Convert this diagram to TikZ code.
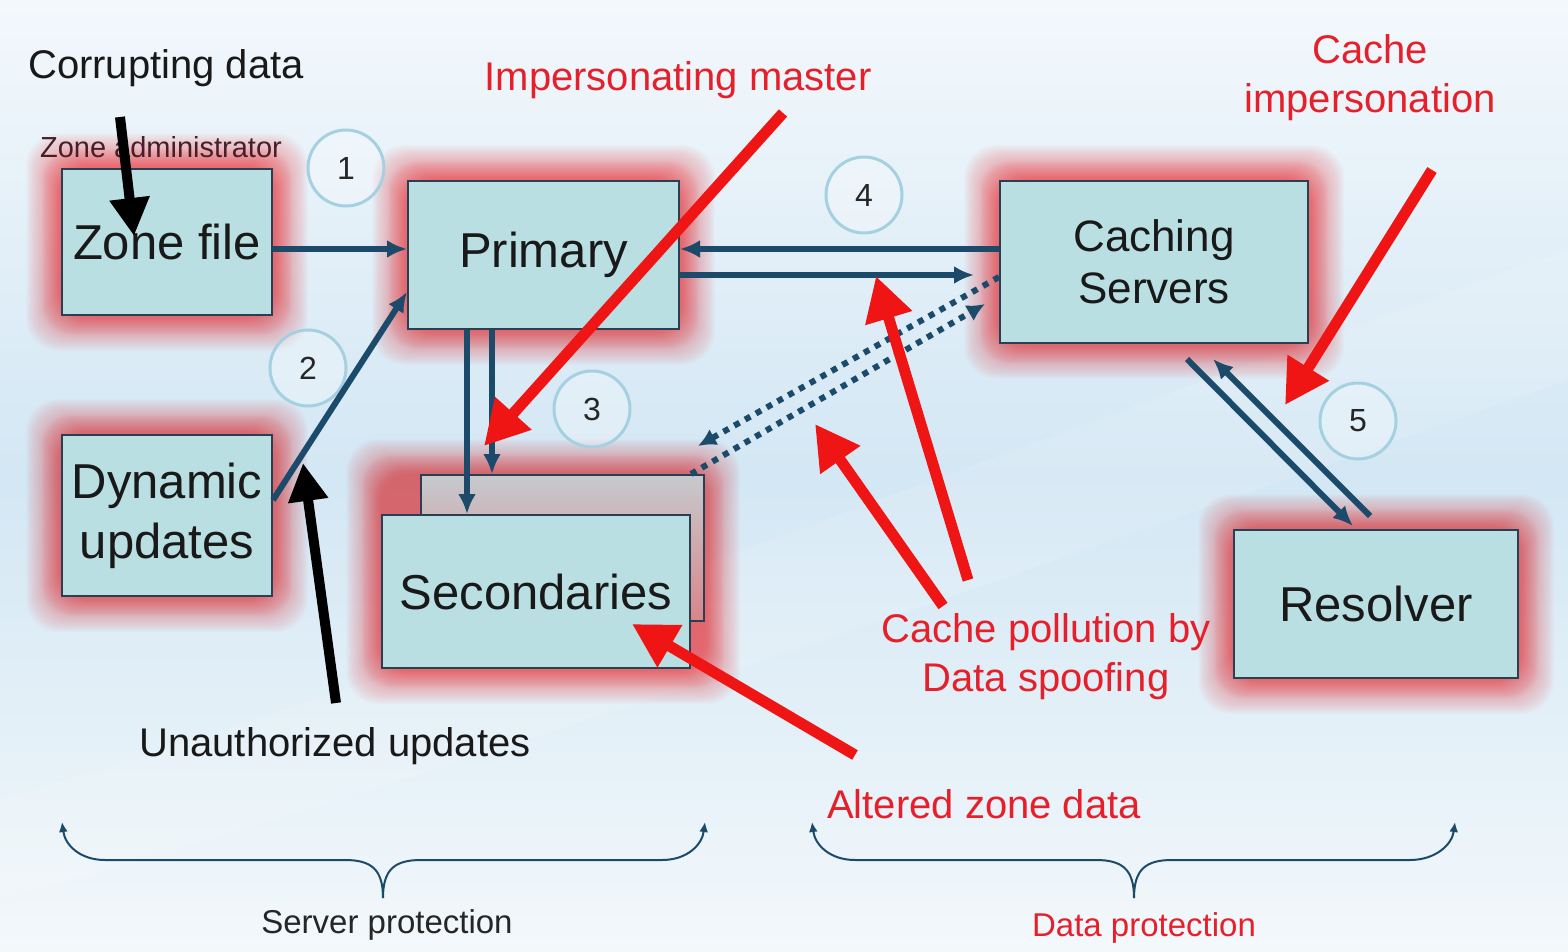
\documentclass[tikz,border=0pt]{standalone}
\usepackage{fontspec}
\setmainfont{Liberation Sans}
\usetikzlibrary{arrows.meta,calc}
\definecolor{bgtop}{HTML}{F3F8FC}
\definecolor{bgmid}{HTML}{D3E7F4}
\definecolor{bgbot}{HTML}{F3F8FB}
\definecolor{boxfill}{HTML}{B9DFE3}
\definecolor{boxline}{HTML}{2A3F52}
\definecolor{glowc}{HTML}{FF3C42}
\definecolor{conn}{HTML}{1C4A6B}
\definecolor{attack}{HTML}{F01515}
\definecolor{circc}{HTML}{A5D0E2}
\definecolor{admin}{HTML}{4A1E28}
\definecolor{labred}{HTML}{E5202B}
\definecolor{backtop}{HTML}{C6CACE}
\definecolor{backbot}{HTML}{D98589}
\newcommand{\glowrect}[4]{%
  \foreach \e in {1,...,20} {%
    \fill[glowc, opacity=0.02, rounded corners=14pt] ({#1-\e},{#2-\e}) rectangle ({#3+\e},{#4+\e});}
  \foreach \e in {1,...,36} {%
    \fill[glowc, opacity=0.02, rounded corners=16pt] ({#1-\e},{#2-\e}) rectangle ({#3+\e},{#4+\e});}}
\begin{document}
\begin{tikzpicture}[x=0.5pt,y=-0.5pt,
  bx/.style={draw=boxline, line width=1pt, fill=boxfill, inner sep=0pt, align=center, text=black!90,
    font=\fontsize{24.5}{30}\selectfont},
  circ/.style={circle, draw=circc, line width=1.5pt, fill=white, fill opacity=0.25, text opacity=1,
    minimum size=38pt, inner sep=0pt, font=\fontsize{16}{16}\selectfont, text=black!85},
  cn/.style={draw=conn, line width=3pt, -{Latex[length=10pt,width=9pt]}},
  dt/.style={draw=conn, line width=3pt, dash pattern=on 3pt off 3.2pt, -{Latex[length=9pt,width=9pt]}},
  atk/.style={draw=attack, line width=5.5pt, -{Triangle[length=22pt,width=23pt]}},
  blk/.style={draw=black, line width=5pt, -{Triangle[length=19pt,width=19pt]}},
  brace/.style={draw=conn, line width=1pt, -{Latex[length=5pt,width=4.5pt]}},
  lbl/.style={font=\fontsize{20}{24.5}\selectfont, text=black!90, align=center, inner sep=0pt},
  lblred/.style={lbl, text=labred},
  sml/.style={font=\fontsize{16.5}{20}\selectfont, inner sep=0pt}]
\useasboundingbox (0,0) rectangle (1568,952);
% background
\shade[top color=bgtop, bottom color=bgbot, middle color=bgmid] (0,0) rectangle (1568,952);
\fill[white, opacity=0.12] (0,800) .. controls (500,650) and (1000,450) .. (1568,250) -- (1568,380) .. controls (1000,580) and (500,760) .. (0,900) -- cycle;
% glows
\glowrect{62}{169}{272}{315}
\glowrect{62}{435}{272}{596}
\glowrect{408}{181}{679}{329}
\glowrect{1000}{181}{1308}{343}
\glowrect{382}{475}{704}{668}
\glowrect{1234}{530}{1518}{678}
% boxes
\node[bx, minimum width=105pt, minimum height=73pt] (zf) at (167,242) {Zone file};
\node[bx, minimum width=105pt, minimum height=80.5pt] (dyn) at (167,515.5) {Dynamic\\updates};
\node[bx, minimum width=135.5pt, minimum height=74pt] (prim) at (543.5,255) {Primary};
\node[bx, font=\fontsize{22}{26}\selectfont, minimum width=154pt, minimum height=81pt] (cach) at (1154,262) {Caching\\Servers};
\node[draw=boxline, line width=1pt, top color=backtop, bottom color=backbot, inner sep=0pt,
  minimum width=141.5pt, minimum height=73pt] (secb) at (562.5,548) {};
\node[bx, minimum width=154pt, minimum height=76.5pt] (secf) at (536,591.5) {Secondaries};
\node[bx, minimum width=142pt, minimum height=74pt] (res) at (1376,604) {Resolver};
% numbered circles
\node[circ] (n1) at (346,168) {1};
\node[circ] (n2) at (308,368) {2};
\node[circ] (n3) at (592,409) {3};
\node[circ] (n4) at (864,195) {4};
\node[circ] (n5) at (1358,421) {5};
% connectors
\draw[cn] ([yshift=-3.5pt]zf.east) -- ([yshift=-3.5pt]zf.east -| prim.west);
\draw[cn] ([yshift=7.75pt]dyn.east) -- ([yshift=-18.5pt]prim.west);
\draw[cn] ([yshift=6.5pt]cach.west) -- ([yshift=6.5pt]cach.west -| prim.east);
\draw[cn, shorten >=12.5pt] ([yshift=-10pt]prim.east) -- ([yshift=-10pt]prim.east -| cach.west);
\draw[cn] ([xshift=-38.25pt]prim.south) -- ([xshift=-38.25pt]prim.south |- secf.north);
\draw[cn] ([xshift=-25.75pt]prim.south) -- ([xshift=-25.75pt]prim.south |- secb.north);
\draw[cn] ([xshift=16.5pt,yshift=-7.5pt]cach.south) -- ([xshift=-11.5pt,yshift=1.5pt]res.north);
\draw[cn] ([xshift=-3pt,yshift=6.5pt]res.north) -- ([xshift=29.5pt,yshift=-7.5pt]cach.south);
\coordinate (d1) at (698,446);
\draw[dt] ([yshift=-7.5pt]cach.west) -- (d1);
\draw[dt] ([xshift=-7pt]secb.north east) -- ([xshift=-7pt,yshift=-21pt]cach.west);
% labels
\node[lbl] (tcorrupt) at (166,68) {Corrupting data};
\node[font=\fontsize{14.5}{16}\selectfont, text=admin, inner sep=0pt] (tadmin) at (161,147) {Zone administrator};
\node[lblred] (timp) at (678,80) {Impersonating master};
\node[lblred] (tci) at (1370,78) {Cache\\impersonation};
\node[lblred] (tcp) at (1046,657) {Cache pollution by\\Data spoofing};
\node[lblred] (taz) at (984,804) {Altered zone data};
\node[lbl] (tua) at (335,746) {Unauthorized updates};
\node[sml, text=black!85] (tsp) at (387,925) {Server protection};
\node[sml, text=labred] (tdp) at (1144,928) {Data protection};
% braces
\draw[brace] (383,898) .. controls (383,870) and (372,860) .. (345,860) -- (105,860) .. controls (80,860) and (65,845) .. (62,822);
\draw[brace] (383,898) .. controls (383,870) and (394,860) .. (421,860) -- (662,860) .. controls (687,860) and (702,845) .. (705,822);
\draw[brace] (1134,898) .. controls (1134,870) and (1123,860) .. (1096,860) -- (855,860) .. controls (830,860) and (815,845) .. (812,822);
\draw[brace] (1134,898) .. controls (1134,870) and (1145,860) .. (1172,860) -- (1410,860) .. controls (1435,860) and (1452,845) .. (1455,822);
% attack arrows
\coordinate (ima) at (783,113); \coordinate (imb) at (484,446);
\coordinate (cia) at (1432,170); \coordinate (cib) at (1285,405);
\coordinate (cpa) at (968,580); \coordinate (cpb) at (876,276);
\coordinate (cqa) at (943,606); \coordinate (cqb) at (815,424);
\coordinate (aza) at (855,755); \coordinate (azb) at (632,624);
\draw[atk] (ima) -- (imb);
\draw[atk] (cia) -- (cib);
\draw[atk] (cpa) -- (cpb);
\draw[atk] (cqa) -- (cqb);
\draw[atk] (aza) -- (azb);
\coordinate (coa) at (120,117); \coordinate (cob) at (134,236);
\coordinate (uaa) at (336,703); \coordinate (uab) at (303,463);
\draw[blk] (coa) -- (cob);
\draw[blk] (uaa) -- (uab);
\end{tikzpicture}
\end{document}
